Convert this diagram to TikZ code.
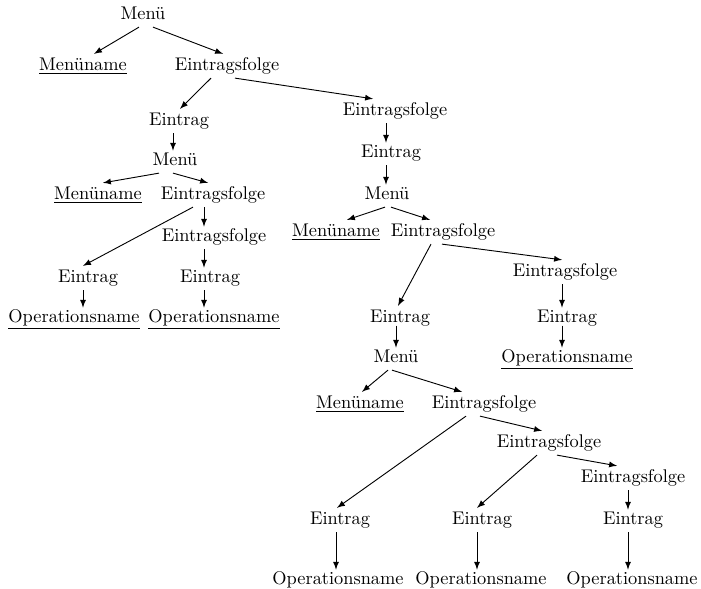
\documentclass[tikz,border=0pt]{standalone}
\usepackage{tikz}
\usetikzlibrary{calc,arrows}

\begin{document}
\begin{tikzpicture}[
    x=0.545pt, y=-0.545pt,
    lbl/.style={inner sep=2pt, text height=1.6ex, text depth=0.45ex},
    arrow/.style={->, >=latex, line width=0.5pt},
    vert/.style={arrow, shorten >=-1pt}
]
\useasboundingbox (0,0) rectangle (701,589);

% Top level
\node[lbl] (menu1) at (143,15) {Menü};
\node[lbl] (name1) at (83,66) {\underline{Menüname}};
\node[lbl] (folge1) at (227,66) {Eintragsfolge};
\node[lbl] (eintrag1) at (179,121) {Eintrag};
\node[lbl] (folge1b) at (395,111) {Eintragsfolge};

% Left submenu
\node[lbl] (menu2) at (175,161) {Menü};
\node[lbl] (name2) at (98,195) {\underline{Menüname}};
\node[lbl] (folge2) at (213,195) {Eintragsfolge};
\node[lbl] (folge2b) at (214,237) {Eintragsfolge};
\node[lbl] (eintrag2a) at (88,278) {Eintrag};
\node[lbl] (eintrag2b) at (210,278) {Eintrag};
\node[lbl] (op2a) at (74,318) {\underline{Operationsname}};
\node[lbl] (op2b) at (214,318) {\underline{Operationsname}};

% Right submenu
\node[lbl] (eintrag1b) at (391,153) {Eintrag};
\node[lbl] (menu3) at (387,195) {Menü};
\node[lbl] (name3) at (336,232) {\underline{Menüname}};
\node[lbl] (folge3) at (443,232) {Eintragsfolge};
\node[lbl] (folge3b) at (565,272) {Eintragsfolge};
\node[lbl] (eintrag3a) at (400,318) {Eintrag};
\node[lbl] (eintrag3b) at (567,318) {Eintrag};
\node[lbl] (op3b) at (567,358) {\underline{Operationsname}};

% Innermost submenu
\node[lbl] (menu4) at (396,358) {Menü};
\node[lbl] (name4) at (360,404) {\underline{Menüname}};
\node[lbl] (folge4) at (484,404) {Eintragsfolge};
\node[lbl] (folge4b) at (549,443) {Eintragsfolge};
\node[lbl] (folge4c) at (633,478) {Eintragsfolge};
\node[lbl] (eintrag4a) at (340,520) {Eintrag};
\node[lbl] (eintrag4b) at (482,520) {Eintrag};
\node[lbl] (eintrag4c) at (633,520) {Eintrag};
\node[lbl] (op4a) at (338,580) {Operationsname};
\node[lbl] (op4b) at (481,580) {Operationsname};
\node[lbl] (op4c) at (632,580) {Operationsname};

% Columns of the vertical arrows
\coordinate (colA) at (173,0);
\coordinate (colB) at (204,0);
\coordinate (colC) at (83,0);
\coordinate (colD) at (386,0);
\coordinate (colE) at (396,0);
\coordinate (colF) at (562,0);
\coordinate (colG) at (336,0);
\coordinate (colH) at (477,0);
\coordinate (colI) at (628,0);

% Slanted arrows
\draw[arrow] ($(menu1.south)+(-4,0)$) -- ($(name1.north)+(11,0)$);
\draw[arrow] ($(menu1.south)+(10,0)$) -- ($(folge1.north)+(-4,0)$);
\draw[arrow] ($(folge1.south)+(-16,0)$) -- ($(eintrag1.north)+(1,0)$);
\draw[arrow] ($(folge1.south)+(8,0)$) -- ($(folge1b.north)+(-22,0)$);
\draw[arrow] ($(menu2.south)+(-16,0)$) -- ($(name2.north)+(5,0)$);
\draw[arrow] ($(menu2.south)+(-2,0)$) -- ($(folge2.north)+(-5,0)$);
\draw[arrow] ($(folge2.south)+(-20,0)$) -- ($(eintrag2a.north)+(-5,0)$);
\draw[arrow] ($(menu3.south)+(-2,0)$) -- ($(name3.north)+(11,0)$);
\draw[arrow] ($(menu3.south)+(4,0)$) -- ($(folge3.north)+(-13,0)$);
\draw[arrow] ($(folge3.south)+(-12,0)$) -- ($(eintrag3a.north)+(-2,0)$);
\draw[arrow] ($(folge3.south)+(-1,0)$) -- ($(folge3b.north)+(-3,0)$);
\draw[arrow] ($(menu4.south)+(-8,0)$) -- ($(name4.north)+(2,0)$);
\draw[arrow] ($(menu4.south)+(-4,0)$) -- ($(folge4.north)+(-22,0)$);
\draw[arrow] ($(folge4.south)+(-18,0)$) -- ($(eintrag4a.north)+(-3,0)$);
\draw[arrow] ($(folge4.south)+(-4,0)$) -- ($(folge4b.north)+(-7,0)$);
\draw[arrow] ($(folge4b.south)+(-12,0)$) -- ($(eintrag4b.north)+(-5,0)$);
\draw[arrow] ($(folge4b.south)+(8,0)$) -- ($(folge4c.north)+(-16,0)$);

% Vertical arrows
\draw[vert] (eintrag1.south -| colA) -- (menu2.north -| colA);
\draw[vert] (folge2.south -| colB) -- (folge2b.north -| colB);
\draw[vert] (folge2b.south -| colB) -- (eintrag2b.north -| colB);
\draw[vert] (eintrag2b.south -| colB) -- (op2b.north -| colB);
\draw[vert] (eintrag2a.south -| colC) -- (op2a.north -| colC);
\draw[vert] (folge1b.south -| colD) -- (eintrag1b.north -| colD);
\draw[vert] (eintrag1b.south -| colD) -- (menu3.north -| colD);
\draw[vert] ($(eintrag3a.base -| colE)+(0,3)$) -- (menu4.north -| colE);
\draw[vert] (folge3b.south -| colF) -- (eintrag3b.north -| colF);
\draw[vert] ($(eintrag3b.base -| colF)+(0,3)$) -- (op3b.north -| colF);
\draw[vert] (eintrag4a.south -| colG) -- (op4a.north -| colG);
\draw[vert] (eintrag4b.south -| colH) -- (op4b.north -| colH);
\draw[vert] (folge4c.south -| colI) -- (eintrag4c.north -| colI);
\draw[vert] (eintrag4c.south -| colI) -- (op4c.north -| colI);

\end{tikzpicture}
\end{document}
